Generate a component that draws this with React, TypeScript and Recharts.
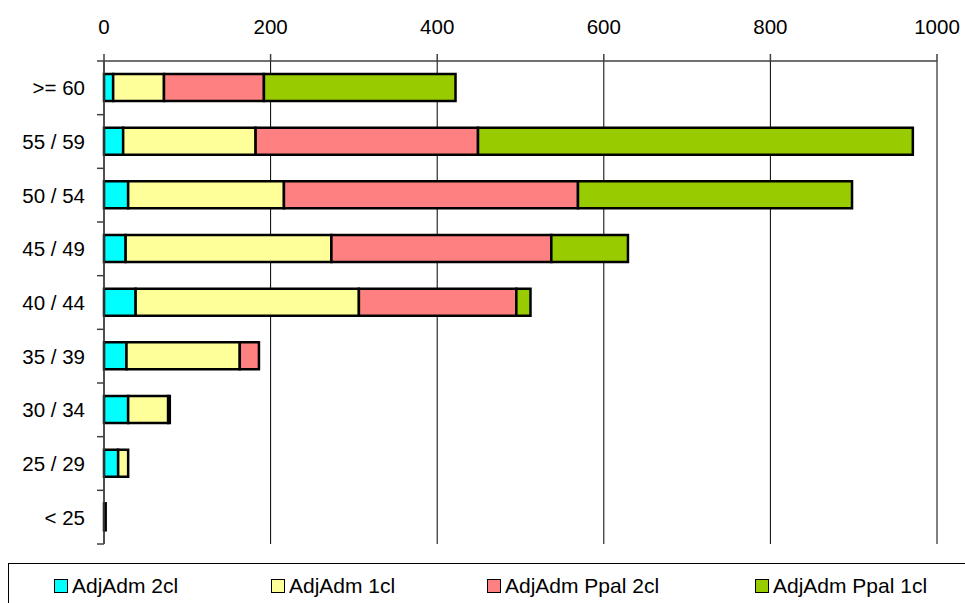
import React from "react";
import {
  BarChart,
  Bar,
  XAxis,
  YAxis,
  CartesianGrid,
} from "recharts";

// age groups, top to bottom
const AGE_GROUPS = [">= 60", "55 / 59", "50 / 54", "45 / 49", "40 / 44", "35 / 39", "30 / 34", "25 / 29", "< 25"];

const ADJ_ADM_2CL = [11, 23, 29, 26, 38, 27, 29, 17, 2];
const ADJ_ADM_1CL = [61, 159, 187, 247, 268, 136, 48, 12, 0];
const ADJ_ADM_PPAL_2CL = [120, 267, 353, 264, 189, 23, 2, 0, 0];
const ADJ_ADM_PPAL_1CL = [230, 522, 329, 92, 17, 0, 0, 0, 0];

const X_TICKS = [0, 200, 400, 600, 800, 1000];

const SERIES = [
  { key: "adj2", name: "AdjAdm 2cl", color: "#00FFFF", values: ADJ_ADM_2CL },
  { key: "adj1", name: "AdjAdm 1cl", color: "#FFFF99", values: ADJ_ADM_1CL },
  { key: "ppal2", name: "AdjAdm Ppal 2cl", color: "#FF8080", values: ADJ_ADM_PPAL_2CL },
  { key: "ppal1", name: "AdjAdm Ppal 1cl", color: "#99CC00", values: ADJ_ADM_PPAL_1CL },
];

const data = AGE_GROUPS.map((age, i) => {
  const row: Record<string, string | number> = { age };
  SERIES.forEach((s) => {
    row[s.key] = s.values[i];
  });
  return row;
});

const W = 965;
const H = 603;
const PLOT_LEFT = 104;
const PLOT_TOP = 61;
const PLOT_RIGHT = 937;
const PLOT_BOTTOM = 544;
const BAND = (PLOT_BOTTOM - PLOT_TOP) / AGE_GROUPS.length;
const FONT = "'Liberation Sans', Arial, sans-serif";

// legend item left edges inside the box
const LEGEND_LEFT = [45, 262, 478, 746];

const AgeTick = (props: any) => {
  const { x, y, payload, index } = props;
  const last = index === AGE_GROUPS.length - 1;
  return (
    <g>
      <text
        x={x}
        y={y}
        textAnchor="end"
        dominantBaseline="central"
        fontSize={20.5}
        fontFamily={FONT}
        fill="#000"
      >
        {payload.value}
      </text>
      <line x1={PLOT_LEFT - 7} x2={PLOT_LEFT} y1={y - BAND / 2} y2={y - BAND / 2} stroke="#404040" strokeWidth={1.5} />
      {last && (
        <line x1={PLOT_LEFT - 7} x2={PLOT_LEFT} y1={y + BAND / 2} y2={y + BAND / 2} stroke="#404040" strokeWidth={1.5} />
      )}
    </g>
  );
};

export default function App() {
  return (
    <div
      style={{
        position: "fixed",
        left: 0,
        top: 0,
        width: W,
        height: H,
        overflow: "hidden",
        background: "#fff",
      }}
    >
      <BarChart
        width={W}
        height={H}
        data={data}
        layout="vertical"
        barSize={27}
        margin={{ top: 0, right: W - PLOT_RIGHT, bottom: H - PLOT_BOTTOM, left: 0 }}
      >
        <CartesianGrid horizontal={false} stroke="#000" strokeWidth={1} />
        <XAxis
          type="number"
          orientation="top"
          domain={[0, 1000]}
          ticks={X_TICKS}
          height={PLOT_TOP}
          tickSize={7}
          tickMargin={20}
          tick={{ fontSize: 20.5, fontFamily: FONT, fill: "#000" }}
          axisLine={{ stroke: "#404040", strokeWidth: 1.5 }}
          tickLine={{ stroke: "#404040", strokeWidth: 1.5 }}
        />
        <XAxis
          xAxisId="frame"
          type="number"
          orientation="bottom"
          domain={[0, 1000]}
          height={0}
          tick={false}
          tickLine={false}
          axisLine={{ stroke: "#808080", strokeWidth: 2.5 }}
        />
        <YAxis
          type="category"
          dataKey="age"
          width={PLOT_LEFT}
          tickSize={7}
          tickMargin={12}
          tickLine={false}
          tick={<AgeTick />}
          axisLine={{ stroke: "#404040", strokeWidth: 1.5 }}
        />
        <YAxis
          yAxisId="frame"
          type="category"
          dataKey="age"
          orientation="right"
          width={0}
          tick={false}
          tickLine={false}
          axisLine={{ stroke: "#808080", strokeWidth: 2 }}
        />
        {SERIES.map((s) => (
          <Bar
            key={s.key}
            dataKey={s.key}
            name={s.name}
            stackId="a"
            fill={s.color}
            stroke="#000"
            strokeWidth={2.5}
            isAnimationActive={false}
          />
        ))}
      </BarChart>
      <div
        style={{
          position: "absolute",
          left: 8,
          top: 563,
          width: 1000,
          height: 80,
          border: "1px solid #000",
          boxSizing: "border-box",
          fontFamily: FONT,
          fontSize: 21,
        }}
      >
        {SERIES.map((s, i) => (
          <div
            key={s.key}
            style={{
              position: "absolute",
              left: LEGEND_LEFT[i],
              top: 10,
              height: 24,
              display: "flex",
              alignItems: "center",
              whiteSpace: "nowrap",
            }}
          >
            <span
              style={{
                display: "inline-block",
                width: 12,
                height: 12,
                background: s.color,
                border: "1.5px solid #000",
                marginRight: 4,
              }}
            />
            <span>{s.name}</span>
          </div>
        ))}
      </div>
    </div>
  );
}
